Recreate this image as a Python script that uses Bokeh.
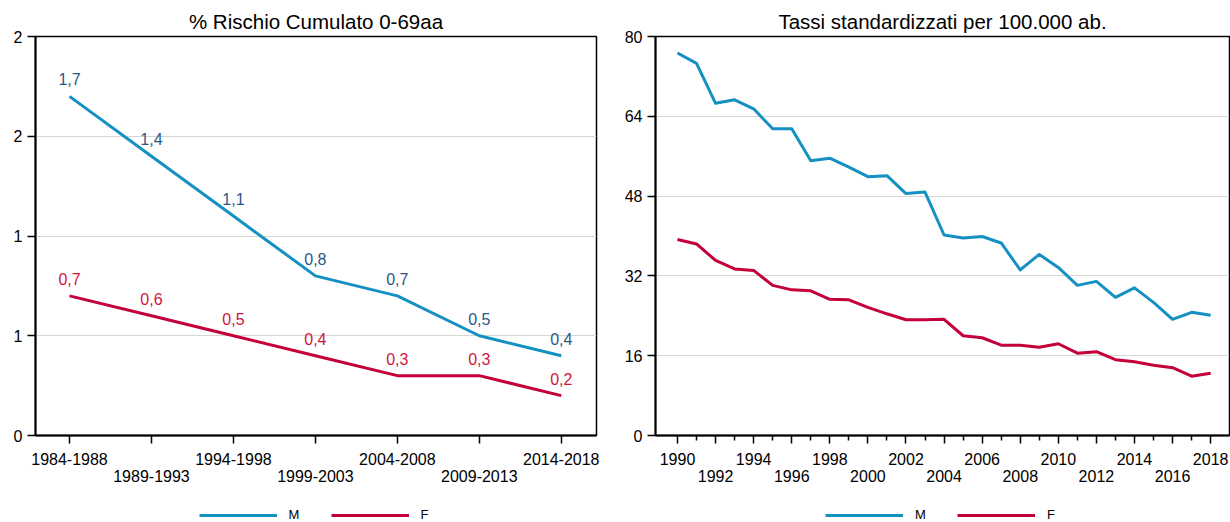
from bokeh.plotting import figure
from bokeh.models import (FixedTicker, LinearAxis, CustomJSTickFormatter, Legend,
                          Range1d)
from bokeh.layouts import row, column
from bokeh.embed import file_html
from bokeh.resources import INLINE
from bokeh.core.properties import value

# ---------------- data ----------------
periods = ["1984-1988", "1989-1993", "1994-1998", "1999-2003",
           "2004-2008", "2009-2013", "2014-2018"]
risk_m = [1.7, 1.4, 1.1, 0.8, 0.7, 0.5, 0.4]
risk_f = [0.7, 0.6, 0.5, 0.4, 0.3, 0.3, 0.2]
left_yticks = [0, 0.5, 1, 1.5, 2]

years = list(range(1990, 2019))
rate_m = [76.7, 74.6, 66.6, 67.3, 65.5, 61.5, 61.5, 55.1, 55.6, 53.8,
          51.9, 52.1, 48.5, 48.8, 40.2, 39.6, 39.9, 38.6, 33.2, 36.3,
          33.7, 30.1, 30.9, 27.7, 29.6, 26.7, 23.3, 24.7, 24.1]
rate_f = [39.3, 38.4, 35.1, 33.4, 33.1, 30.1, 29.2, 29.0, 27.3, 27.2,
          25.7, 24.4, 23.2, 23.2, 23.3, 20.0, 19.6, 18.1, 18.1, 17.7,
          18.4, 16.5, 16.8, 15.2, 14.8, 14.1, 13.6, 11.9, 12.5]
right_yticks = [0, 16, 32, 48, 64, 80]

series_names = ["M", "F"]
titles = ["% Rischio Cumulato 0-69aa", "Tassi standardizzati per 100.000 ab."]

# ---------------- style ----------------
FONT = "Liberation Sans"
C_M = "#1590c2"
C_F = "#c4003a"
C_M_TXT = "#2b5886"
C_F_TXT = "#d2143f"
H_MAIN = 500
H_LEG = 22


def style_axis(ax):
    ax.axis_line_color = "black"
    ax.axis_line_width = 2
    ax.major_tick_line_color = "black"
    ax.major_tick_line_width = 1.5
    ax.major_tick_in = 0
    ax.major_tick_out = 8
    ax.minor_tick_line_color = "black"
    ax.minor_tick_line_width = 1.5
    ax.minor_tick_in = 0
    ax.minor_tick_out = 5
    ax.major_label_text_font = FONT
    ax.major_label_text_font_size = "16px"
    ax.major_label_text_color = "black"


def second_row_axis(ticker, formatter):
    ax = LinearAxis(ticker=ticker, formatter=formatter)
    ax.axis_line_color = None
    ax.major_tick_line_color = None
    ax.minor_tick_line_color = None
    ax.major_tick_in = 0
    ax.major_tick_out = 0
    ax.minor_tick_in = 0
    ax.minor_tick_out = 0
    ax.major_label_standoff = 2
    ax.major_label_text_font = FONT
    ax.major_label_text_font_size = "16px"
    ax.major_label_text_color = "black"
    return ax


def base_fig(width, title, x_range, y_range, mbl, mbr, yticks):
    p = figure(width=width, height=H_MAIN, x_range=x_range, y_range=y_range,
               output_backend="svg", toolbar_location=None, title=title,
               min_border_left=mbl, min_border_right=mbr,
               min_border_top=36, min_border_bottom=65)
    p.title.align = "center"
    p.title.text_font = FONT
    p.title.text_font_size = "20.5px"
    p.title.text_font_style = "normal"
    p.title.text_color = "black"
    p.title.standoff = 7
    p.outline_line_color = "black"
    p.outline_line_width = 1.5
    p.outline_line_alpha = 1
    p.background_fill_color = "white"
    p.border_fill_color = "white"
    p.xgrid.visible = False
    p.ygrid.ticker = FixedTicker(ticks=yticks)
    p.ygrid.grid_line_color = "#d6d6d6"
    p.ygrid.grid_line_width = 1
    p.yaxis.ticker = FixedTicker(ticks=yticks)
    for ax in p.xaxis + p.yaxis:
        style_axis(ax)
    p.yaxis.major_label_standoff = 5
    p.xaxis.major_label_standoff = 9
    return p


def legend_fig(width, mbl, mbr, xs, series):
    # legend-only strip; the series are plotted far outside its 0..1 ranges,
    # so only the legend keys are visible
    q = figure(width=width, height=H_LEG, x_range=Range1d(0, 1), y_range=Range1d(0, 1),
               output_backend="svg", toolbar_location=None,
               x_axis_location=None, y_axis_location=None,
               min_border_left=mbl, min_border_right=mbr,
               min_border_top=0, min_border_bottom=0)
    q.xgrid.visible = False
    q.ygrid.visible = False
    q.outline_line_color = None
    q.background_fill_color = "white"
    q.border_fill_color = "white"
    keys = [q.line(x=xs, y=ys, line_color=c, line_width=3)
            for ys, c in zip(series, (C_M, C_F))]
    leg = Legend(items=[(n, [r]) for n, r in zip(series_names, keys)],
                 location="bottom", orientation="horizontal")
    leg.border_line_color = None
    leg.background_fill_alpha = 0
    leg.padding = 0
    leg.margin = 0
    leg.glyph_width = 78
    leg.glyph_height = 14
    leg.label_standoff = 12
    leg.label_width = 12
    leg.spacing = 30
    leg.label_text_font = FONT
    leg.label_text_font_size = "13px"
    leg.label_text_color = "black"
    q.add_layout(leg)
    return q


# ---------------- left chart ----------------
idx = list(range(len(periods)))
p1 = base_fig(618, titles[0], Range1d(-0.415, 6.43), Range1d(0, 2), 35, 22,
              left_yticks)
p1.yaxis.formatter = CustomJSTickFormatter(code="return Math.round(tick).toString();")
p1.xaxis.ticker = FixedTicker(ticks=idx)
p1.xaxis.formatter = CustomJSTickFormatter(
    args=dict(labels=periods),
    code="const i = Math.round(tick); return (i % 2 == 0) ? labels[i] : '';")
p1.add_layout(second_row_axis(
    FixedTicker(ticks=[i for i in idx if i % 2 == 1]),
    CustomJSTickFormatter(args=dict(labels=periods),
                          code="return labels[Math.round(tick)];")), "below")

p1.line(idx, risk_m, line_color=C_M, line_width=3, line_join="round")
p1.line(idx, risk_f, line_color=C_F, line_width=3, line_join="round")
for vals, col in ((risk_m, C_M_TXT), (risk_f, C_F_TXT)):
    p1.text(x=idx, y=vals, text=[f"{v:.1f}".replace(".", ",") for v in vals],
            text_font=value(FONT), text_font_size="16px", text_color=col,
            text_align="center", text_baseline="alphabetic", y_offset=-17)
q1 = legend_fig(618, 35, 22, years, [rate_m, rate_f])

# ---------------- right chart ----------------
p2 = base_fig(612, titles[1], Range1d(1988.845, 2018.99), Range1d(0, 80), 37, 1,
              right_yticks)
p2.xaxis.ticker = FixedTicker(ticks=[y for y in years if y % 2 == 0],
                              minor_ticks=[y for y in years if y % 2 == 1])
p2.xaxis.formatter = CustomJSTickFormatter(
    args=dict(y0=years[0]),
    code="return ((Math.round(tick) - y0) % 4 == 0) ? Math.round(tick).toString() : '';")
p2.add_layout(second_row_axis(
    FixedTicker(ticks=[y for y in years if (y - years[0]) % 4 == 2]),
    CustomJSTickFormatter(code="return Math.round(tick).toString();")), "below")

p2.line(years, rate_m, line_color=C_M, line_width=3, line_join="round")
p2.line(years, rate_f, line_color=C_F, line_width=3, line_join="round")
q2 = legend_fig(612, 37, 1, years, [rate_m, rate_f])

layout = row(column(p1, q1), column(p2, q2))
open("out.html", "w").write(file_html(layout, INLINE))
